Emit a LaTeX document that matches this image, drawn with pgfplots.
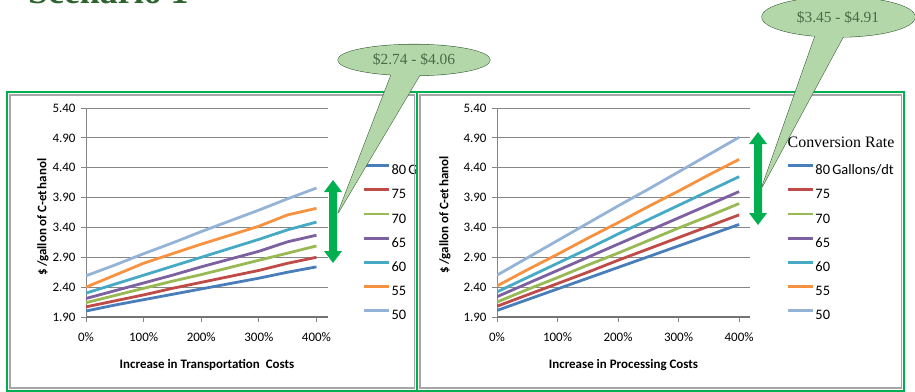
\documentclass[border=0pt]{standalone}
\usepackage{pgfplots}
\usepackage{pgfplotstable}
\pgfplotsset{compat=1.18}
\usepackage{fontspec}
\setmainfont{Carlito}
\newfontfamily\serifx{Liberation Serif}

\definecolor{s80}{RGB}{74,126,187}
\definecolor{s75}{RGB}{190,75,72}
\definecolor{s70}{RGB}{152,185,84}
\definecolor{s65}{RGB}{125,96,160}
\definecolor{s60}{RGB}{70,170,197}
\definecolor{s55}{RGB}{246,146,64}
\definecolor{s50}{RGB}{149,179,215}
\definecolor{framegreen}{RGB}{0,176,80}
\definecolor{callfill}{RGB}{180,215,170}
\definecolor{calldraw}{RGB}{60,100,60}
\definecolor{calltext}{RGB}{72,108,72}
\definecolor{titlegreen}{RGB}{45,100,45}
\definecolor{gridgray}{RGB}{134,134,134}

\pgfplotstableread{
x s80 s75 s70 s65 s60 s55 s50
0 2.00 2.07 2.14 2.21 2.30 2.40 2.59
50 2.10 2.17 2.26 2.34 2.45 2.60 2.77
100 2.19 2.27 2.38 2.47 2.60 2.80 2.96
150 2.28 2.38 2.50 2.60 2.75 2.96 3.14
200 2.37 2.48 2.61 2.74 2.90 3.12 3.33
250 2.46 2.58 2.73 2.87 3.05 3.27 3.51
300 2.55 2.68 2.85 3.00 3.20 3.42 3.69
350 2.65 2.80 2.97 3.16 3.36 3.61 3.88
400 2.74 2.90 3.09 3.27 3.49 3.72 4.06
}\transport

\pgfplotstableread{
x s80 s75 s70 s65 s60 s55 s50
0 2.01 2.08 2.15 2.24 2.32 2.42 2.60
50 2.19 2.27 2.36 2.46 2.56 2.69 2.89
100 2.37 2.46 2.56 2.68 2.80 2.95 3.18
150 2.55 2.65 2.77 2.90 3.04 3.22 3.47
200 2.73 2.85 2.97 3.12 3.29 3.48 3.76
250 2.91 3.04 3.18 3.34 3.53 3.75 4.04
300 3.09 3.23 3.39 3.56 3.77 4.01 4.33
350 3.27 3.42 3.59 3.78 4.01 4.28 4.62
400 3.45 3.61 3.80 4.00 4.25 4.54 4.91
}\processing

\pgfplotsset{
  panel/.style={
    scale only axis, height=209bp,
    xmin=0, ymin=1.9, ymax=5.4,
    axis x line*=bottom, axis y line*=left,
    axis line style={draw=gridgray, line width=0.8bp},
    x axis line style={draw=gray!90!black, line width=1.4bp},
    ymajorgrids, major grid style={draw=gridgray, line width=0.8bp},
    tick style={draw=gridgray, line width=0.8bp},
    tick align=outside, major tick length=5bp,
    tick label style={font=\fontsize{13}{15}\selectfont},
    ytick={1.9,2.4,2.9,3.4,3.9,4.4,4.9,5.4},
    yticklabel={\pgfmathprintnumber[fixed,fixed zerofill,precision=2,assume math mode=true]{\tick}},
    yticklabel style={xshift=-2bp},
    xtick={0,100,200,300,400},
    xticklabels={0\%,100\%,200\%,300\%,400\%},
    xticklabel style={yshift=-7bp},
    xlabel style={font=\bfseries\fontsize{13}{15}\selectfont, anchor=center},
    ylabel style={font=\bfseries\fontsize{13}{15}\selectfont, anchor=center},
    ylabel={\$\,/gallon of C-et\hspace{2bp}hanol},
    legend cell align=left,
    legend style={draw=none, fill=none, anchor=north west, inner sep=0pt,
      row sep=13.8bp, column sep=1.5bp, font=\fontsize{14.5}{17}\selectfont,
      nodes={inner sep=0pt, text height=9bp, text depth=0pt}},
    legend image code/.code={\draw[#1] (0bp,4.5bp) -- (25bp,4.5bp);},
    every axis plot/.append style={line width=2.8bp},
  }
}

\begin{document}
\begin{tikzpicture}
\useasboundingbox (0,0) rectangle (915bp,-392bp);
\clip (0,0) rectangle (915bp,-392bp);

\begin{scope}[x=1bp,y=-1bp]
\node[anchor=base west, inner sep=0pt, font=\serifx\bfseries\fontsize{36}{40}\selectfont, text=titlegreen] at (28,3.5) {Scenario 1};
\end{scope}

% ---- left panel
\begin{axis}[panel, width=242bp, xmax=420,
  at={(86bp,-317bp)}, anchor=south west,
  xlabel={Increase in Transportation\hspace{3bp} Costs},
  xlabel style={at={(axis description cs:0.5,-0.2297)}},
  ylabel style={at={(axis description cs:-0.1777,0.478)}},
  legend style={at={(1.1405,0.732)}}]
\addplot[s80] table[x=x,y=s80] {\transport};
\addplot[s75] table[x=x,y=s75] {\transport};
\addplot[s70] table[x=x,y=s70] {\transport};
\addplot[s65] table[x=x,y=s65] {\transport};
\addplot[s60] table[x=x,y=s60] {\transport};
\addplot[s55] table[x=x,y=s55] {\transport};
\addplot[s50] table[x=x,y=s50] {\transport};
\legend{80\hspace{-1bp} Gallons/dt,75,70,65,60,55,50}
\end{axis}

\begin{scope}[x=1bp,y=-1bp]
\draw[black!35, line width=1.5bp] (10,95) rectangle (414.5,388);
\draw[framegreen, line width=2.2bp] (7,92) rectangle (417,391);
\fill[white] (418.2,93.2) rectangle (915,389.8);
\draw[black!35, line width=1.5bp] (420,95) rectangle (901.5,388);
\draw[framegreen, line width=2.2bp] (417,92) rectangle (904,391);
\end{scope}

% ---- right panel
\begin{axis}[panel, width=253bp, xmax=418,
  at={(497bp,-317bp)}, anchor=south west,
  xlabel={Increase in Processing Costs},
  xlabel style={at={(axis description cs:0.5,-0.2297)}},
  ylabel style={at={(axis description cs:-0.2055,0.49)}},
  legend style={at={(1.142,0.732)}}]
\addplot[s80] table[x=x,y=s80] {\processing};
\addplot[s75] table[x=x,y=s75] {\processing};
\addplot[s70] table[x=x,y=s70] {\processing};
\addplot[s65] table[x=x,y=s65] {\processing};
\addplot[s60] table[x=x,y=s60] {\processing};
\addplot[s55] table[x=x,y=s55] {\processing};
\addplot[s50] table[x=x,y=s50] {\processing};
\legend{80\hspace{-1bp} Gallons/dt,75,70,65,60,55,50}
\end{axis}

\begin{scope}[x=1bp,y=-1bp]
\node[font=\serifx\fontsize{16}{18}\selectfont, inner sep=0pt] at (841,142) {Conversion Rate};

% green double arrows
\fill[framegreen] (333,180) -- (342,192) -- (337,192) -- (337,251) -- (342,251) -- (333,263)
  -- (324,251) -- (329,251) -- (329,192) -- (324,192) -- cycle;
\fill[framegreen] (758,132) -- (767,144) -- (762,144) -- (762,213) -- (767,213) -- (758,225)
  -- (749,213) -- (754,213) -- (754,144) -- (749,144) -- cycle;

% callouts
\filldraw[fill=callfill, draw=calldraw, line width=1.1bp] (395,65) -- (425.7,65) -- (338,213) -- cycle;
\filldraw[fill=callfill, draw=calldraw, line width=1.1bp] (414,60) ellipse [x radius=76, y radius=15.5];
\fill[callfill] (395,65) -- (425.7,65) -- (338,213) -- cycle;
\fill[callfill] (414,60) ellipse [x radius=76, y radius=15.5];
\node[font=\serifx\fontsize{15.5}{17}\selectfont, text=calltext] at (414,59.5) {\$2.74 - \$4.06};

\filldraw[fill=callfill, draw=calldraw, line width=1.1bp] (819,25) -- (849.5,25) -- (762,187) -- cycle;
\filldraw[fill=callfill, draw=calldraw, line width=1.1bp] (838.5,17) ellipse [x radius=76.5, y radius=20];
\fill[callfill] (819,25) -- (849.5,25) -- (762,187) -- cycle;
\fill[callfill] (838.5,17) ellipse [x radius=76.5, y radius=20];
\node[font=\serifx\fontsize{15.5}{17}\selectfont, text=calltext] at (838,17) {\$3.45 - \$4.91};
\end{scope}
\end{tikzpicture}
\end{document}
